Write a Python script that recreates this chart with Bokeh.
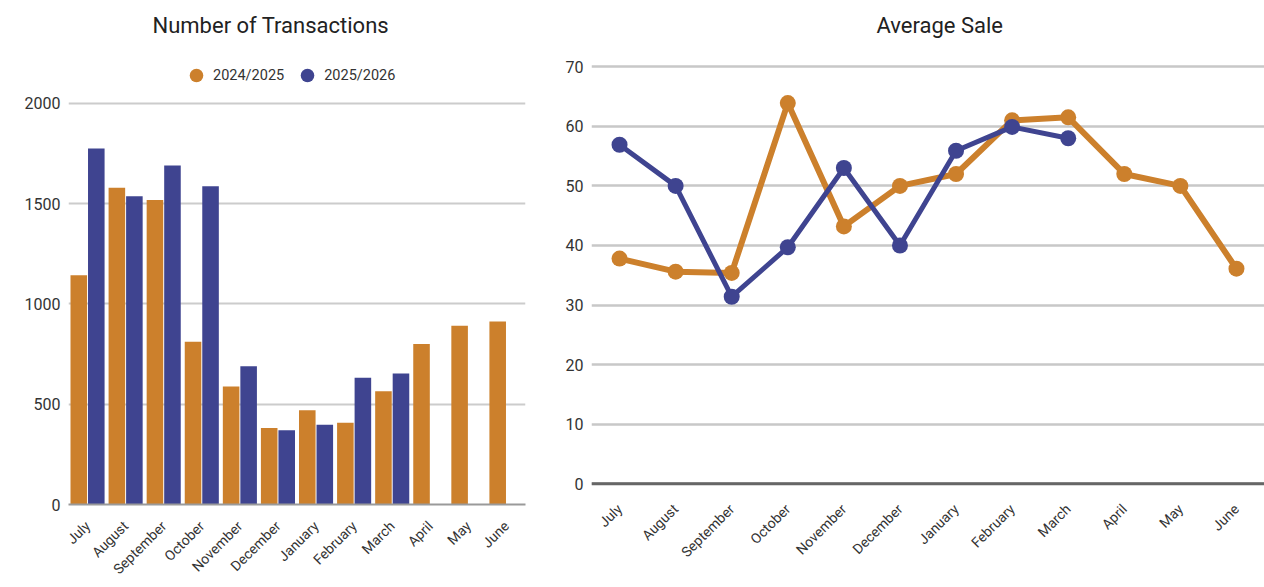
import math
from bokeh.plotting import figure
from bokeh.models import FactorRange, ColumnDataSource, Range1d, FixedTicker, Span
from bokeh.transform import dodge
from bokeh.layouts import row
from bokeh.embed import file_html
from bokeh.resources import INLINE

months = ["July", "August", "September", "October", "November", "December",
          "January", "February", "March", "April", "May", "June"]
trans_2425 = [1143, 1580, 1518, 812, 588, 382, 470, 408, 565, 800, 892, 913]
trans_2526 = [1776, 1537, 1690, 1587, 690, 370, 398, 632, 653]
avg_2425 = [37.8, 35.6, 35.4, 63.9, 43.2, 50.0, 52.0, 61.0, 61.5, 52.0, 50.0, 36.1]
avg_2526 = [56.9, 50.0, 31.4, 39.7, 53.0, 40.0, 55.9, 59.9, 58.0]
series_names = ["2024/2025", "2025/2026"]
trans_ticks = [0, 500, 1000, 1500, 2000]
avg_ticks = [10, 20, 30, 40, 50, 60, 70]
avg_zero = 0

ORANGE = "#CC802C"
BLUE = "#3F4490"
FONT = "Roboto"
TXT = "#333333"

src_t1 = ColumnDataSource(dict(m=months, v=trans_2425))
src_t2 = ColumnDataSource(dict(m=months[:len(trans_2526)], v=trans_2526))
src_a1 = ColumnDataSource(dict(m=months, v=avg_2425))
src_a2 = ColumnDataSource(dict(m=months[:len(avg_2526)], v=avg_2526))


def style_common(p, ticks):
    p.outline_line_color = None
    p.xgrid.grid_line_color = None
    p.yaxis.ticker = FixedTicker(ticks=ticks)
    p.yaxis.axis_line_color = None
    p.yaxis.major_tick_line_color = None
    p.yaxis.minor_tick_line_color = None
    p.yaxis.major_tick_out = 0
    p.yaxis.minor_tick_out = 0
    p.yaxis.major_label_standoff = 8
    p.yaxis.major_label_text_font = FONT
    p.yaxis.major_label_text_font_size = "16px"
    p.yaxis.major_label_text_color = TXT
    p.xaxis.major_tick_line_color = None
    p.xaxis.minor_tick_line_color = None
    p.xaxis.major_tick_out = 0
    p.xaxis.minor_tick_out = 0
    p.xaxis.major_label_orientation = math.pi / 4
    p.xaxis.major_label_text_font = FONT
    p.xaxis.major_label_text_font_size = "14px"
    p.xaxis.major_label_text_color = TXT
    p.title.text_font = FONT
    p.title.text_font_style = "normal"
    p.title.text_font_size = "22px"
    p.title.text_color = "#222222"
    p.title.align = "left"
    p.title.standoff = 6


# ---------------- left: Number of Transactions ----------------
p1 = figure(x_range=FactorRange(factors=months, range_padding=0),
            y_range=Range1d(0, 2314),
            width=535, height=587,
            min_border_left=68, min_border_right=10,
            min_border_top=40, min_border_bottom=83,
            title="Number of Transactions",
            output_backend="svg", toolbar_location=None)
style_common(p1, trans_ticks)
p1.title.offset = 84
p1.ygrid.grid_line_color = "#cccccc"
p1.ygrid.grid_line_width = 2
p1.xaxis.axis_line_color = "#9a9a9a"
p1.xaxis.axis_line_width = 2
p1.xaxis.major_label_standoff = 19

p1.vbar(x=dodge("m", -0.23, range=p1.x_range), top="v", width=0.435,
        source=src_t1, fill_color=ORANGE, line_color=None)
p1.vbar(x=dodge("m", 0.23, range=p1.x_range), top="v", width=0.435,
        source=src_t2, fill_color=BLUE, line_color=None)

# legend markers (circles); their single point lies below the visible range
p1.scatter(x=months[:1], y=[-1000], size=14, marker="circle", fill_color=ORANGE,
           line_color=None, legend_label=series_names[0])
p1.scatter(x=months[:1], y=[-1000], size=14, marker="circle", fill_color=BLUE,
           line_color=None, legend_label=series_names[1])
lg = p1.legend[0]
lg.location = (111, 412)
lg.orientation = "horizontal"
lg.border_line_color = None
lg.background_fill_alpha = 0
lg.glyph_width = 34
lg.glyph_height = 34
lg.label_standoff = 0
lg.spacing = 6
lg.margin = 0
lg.padding = 1
lg.label_text_font = FONT
lg.label_text_font_size = "14.5px"
lg.label_text_color = TXT

# ---------------- right: Average Sale ----------------
p2 = figure(x_range=FactorRange(factors=months, range_padding=0),
            y_range=Range1d(-3.47, 74.4),
            width=729, height=587,
            min_border_left=56, min_border_right=0,
            min_border_top=40, min_border_bottom=83,
            title="Average Sale",
            output_backend="svg", toolbar_location=None)
style_common(p2, avg_ticks + [avg_zero])
p2.title.offset = 285
p2.ygrid.grid_line_color = "#c8c8c8"
p2.ygrid.grid_line_width = 2.5
p2.xaxis.axis_line_color = None
p2.xaxis.major_label_standoff = 2
p2.add_layout(Span(location=avg_zero, dimension="width",
                   line_color="#666666", line_width=3))

p2.line(x="m", y="v", source=src_a1, line_color=ORANGE, line_width=6)
p2.scatter(x="m", y="v", source=src_a1, size=16, marker="circle",
           fill_color=ORANGE, line_color=None)
p2.line(x="m", y="v", source=src_a2, line_color=BLUE, line_width=5)
p2.scatter(x="m", y="v", source=src_a2, size=16, marker="circle",
           fill_color=BLUE, line_color=None)

layout = row(p1, p2)
open("out.html", "w").write(file_html(layout, INLINE))
